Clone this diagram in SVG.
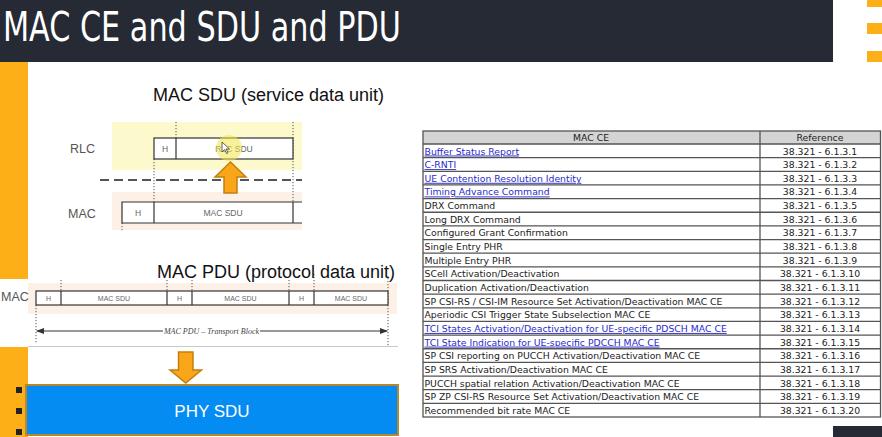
<svg xmlns="http://www.w3.org/2000/svg" width="882" height="437" viewBox="0 0 882 437">
<defs>
<style>
.dark{fill:#252a35}
.orange{fill:#fcaf17}
.box{fill:#fff;stroke:#333;stroke-width:1.2}
.dot{stroke:#555;stroke-width:1;stroke-dasharray:1.2 1.8;fill:none}
.small{font-family:"Liberation Sans",Arial,sans-serif;fill:#666;text-anchor:middle}
.lbl{font-family:"Liberation Sans",Arial,sans-serif;fill:#555;font-size:12.5px}
.cap{font-family:"Liberation Sans",Arial,sans-serif;fill:#111;font-size:18px}
.arrow{fill:#f9a61b;stroke:#c47f0c;stroke-width:1.5}
.tbl{font-family:"DejaVu Sans",Verdana,sans-serif;font-size:9.3px;fill:#222}
.lnk{fill:#2b2bc8;text-decoration:underline}
.ref{text-anchor:middle}
.grid{stroke:#555;stroke-width:1.3;fill:none}
</style>
<marker id="ah" markerWidth="8" markerHeight="6" refX="7" refY="3" orient="auto-start-reverse" markerUnits="userSpaceOnUse">
<path d="M0,0 L8,3 L0,6 Z" fill="#333"/>
</marker>
</defs>
<rect width="882" height="437" fill="#fff"/>

<g id="title">
<rect x="0" y="0" width="833" height="62" class="dark"/>
<text x="3" y="41" font-family="'DejaVu Sans Condensed','DejaVu Sans',sans-serif" font-stretch="condensed" font-size="41" fill="#fff" textLength="398" lengthAdjust="spacingAndGlyphs">MAC CE and SDU and PDU</text>
<rect x="867" y="0" width="15" height="7" class="orange"/>
<rect x="867" y="23" width="15" height="11" class="orange"/>
<rect x="867" y="51" width="15" height="11" class="orange"/>
<rect x="833" y="426" width="49" height="11" class="dark"/>
</g>

<g id="left-strip">
<rect x="0" y="62" width="28" height="217" class="orange"/>
<rect x="0" y="347" width="28" height="90" class="orange"/>
<rect x="16" y="387" width="6" height="6" fill="#222"/>
<rect x="16" y="408" width="6" height="6" fill="#222"/>
<rect x="16" y="429" width="6" height="6" fill="#222"/>
</g>

<g id="sdu-diagram">
<text x="153" y="101" class="cap">MAC SDU (service data unit)</text>
<rect x="112" y="122" width="190" height="48" fill="#fcf9cc"/>
<rect x="112" y="192" width="190" height="38" fill="#fdf0e6"/>
<text x="70" y="153" class="lbl">RLC</text>
<text x="68" y="218" class="lbl">MAC</text>
<line x1="100" y1="180" x2="302" y2="180" stroke="#555" stroke-width="2" stroke-dasharray="9 5"/>
<line x1="176" y1="122" x2="176" y2="138" class="dot"/>
<line x1="293" y1="122" x2="293" y2="202" class="dot"/>
<line x1="154" y1="159" x2="154" y2="202" class="dot"/>
<line x1="122" y1="223" x2="122" y2="231" class="dot"/>
<rect x="154" y="138" width="139" height="21" class="box"/>
<line x1="176" y1="138" x2="176" y2="159" stroke="#333" stroke-width="1.2"/>
<text x="165" y="151.5" class="small" font-size="8.5">H</text>
<text x="234" y="151.5" class="small" font-size="8.5">RLC SDU</text>
<path d="M302,202 H122 V223 H302" fill="#fff" stroke="#333" stroke-width="1.2"/>
<line x1="154" y1="202" x2="154" y2="223" stroke="#333" stroke-width="1.2"/>
<line x1="293" y1="202" x2="293" y2="223" stroke="#333" stroke-width="1.2"/>
<text x="138" y="215.5" class="small" font-size="8.5">H</text>
<text x="223" y="215.5" class="small" font-size="8.5">MAC SDU</text>
<circle cx="229" cy="148" r="13" fill="#f2e64a" opacity="0.55"/>
<path d="M222,142 L222,152 L224.5,149.5 L226.5,153.5 L228,152.8 L226,149 L229.5,149 Z" fill="#fff" stroke="#222" stroke-width="0.7"/>
<path class="arrow" d="M230.5,162 L246,177 L237,177 L237,193 L224,193 L224,177 L215,177 Z"/>
</g>

<g id="pdu-diagram">
<rect x="28" y="283" width="369" height="31" fill="#fdf0e6"/>
<text x="1" y="301" class="lbl" font-size="10">MAC</text>
<line x1="36" y1="305" x2="36" y2="343" class="dot"/>
<line x1="61" y1="280" x2="61" y2="291" class="dot"/>
<line x1="167" y1="280" x2="167" y2="291" class="dot"/>
<line x1="192" y1="280" x2="192" y2="291" class="dot"/>
<line x1="289" y1="280" x2="289" y2="291" class="dot"/>
<line x1="314" y1="274" x2="314" y2="291" class="dot"/>
<line x1="388" y1="278" x2="388" y2="346" class="dot"/>
<rect x="36" y="291" width="352" height="14" class="box"/>
<g stroke="#333" stroke-width="1.2">
<line x1="61" y1="291" x2="61" y2="305"/>
<line x1="167" y1="291" x2="167" y2="305"/>
<line x1="192" y1="291" x2="192" y2="305"/>
<line x1="289" y1="291" x2="289" y2="305"/>
<line x1="314" y1="291" x2="314" y2="305"/>
</g>
<g class="small" font-size="7">
<text x="48.5" y="300.5">H</text>
<text x="114" y="300.5">MAC SDU</text>
<text x="179.5" y="300.5">H</text>
<text x="240.5" y="300.5">MAC SDU</text>
<text x="301.5" y="300.5">H</text>
<text x="351" y="300.5">MAC SDU</text>
</g>
<line x1="37" y1="331" x2="387" y2="331" stroke="#333" stroke-width="1" marker-start="url(#ah)" marker-end="url(#ah)"/>
<rect x="163" y="326" width="97" height="10" fill="#fff"/>
<text x="211.5" y="333.5" font-family="'Liberation Serif','Times New Roman',serif" font-style="italic" font-size="8" fill="#444" text-anchor="middle">MAC PDU – Transport Block</text>
<text x="157" y="278" class="cap">MAC PDU (protocol data unit)</text>
<line x1="28" y1="346.5" x2="398" y2="346.5" stroke="#c8c8c8" stroke-width="1"/>
</g>

<g id="phy-sdu">
<rect x="26" y="385" width="372" height="50" fill="#058cf3" stroke="#b8862b" stroke-width="2"/>
<text x="212" y="417" font-family="'Liberation Sans',Arial,sans-serif" font-size="17" fill="#fff" text-anchor="middle">PHY SDU</text>
</g>

<g id="connectors">
<path class="arrow" d="M178.5,352 L193,352 L193,370 L201.5,370 L185.75,383 L170,370 L178.5,370 Z"/>
</g>

<g id="mac-ce-table">
<rect x="423" y="131" width="457.5" height="286" fill="#fff"/>
<rect x="423" y="131" width="457.5" height="13" fill="#d4d4d4"/>
<rect x="423" y="131" width="457.5" height="286" class="grid" stroke-width="1.6"/>
<line x1="760" y1="131" x2="760" y2="417" class="grid"/>
<g class="grid">
<line x1="423" y1="144" x2="880.5" y2="144"/>
<line x1="423" y1="157.65" x2="880.5" y2="157.65"/>
<line x1="423" y1="171.3" x2="880.5" y2="171.3"/>
<line x1="423" y1="184.95" x2="880.5" y2="184.95"/>
<line x1="423" y1="198.6" x2="880.5" y2="198.6"/>
<line x1="423" y1="212.25" x2="880.5" y2="212.25"/>
<line x1="423" y1="225.9" x2="880.5" y2="225.9"/>
<line x1="423" y1="239.55" x2="880.5" y2="239.55"/>
<line x1="423" y1="253.2" x2="880.5" y2="253.2"/>
<line x1="423" y1="266.85" x2="880.5" y2="266.85"/>
<line x1="423" y1="280.5" x2="880.5" y2="280.5"/>
<line x1="423" y1="294.15" x2="880.5" y2="294.15"/>
<line x1="423" y1="307.8" x2="880.5" y2="307.8"/>
<line x1="423" y1="321.45" x2="880.5" y2="321.45"/>
<line x1="423" y1="335.1" x2="880.5" y2="335.1"/>
<line x1="423" y1="348.75" x2="880.5" y2="348.75"/>
<line x1="423" y1="362.4" x2="880.5" y2="362.4"/>
<line x1="423" y1="376.05" x2="880.5" y2="376.05"/>
<line x1="423" y1="389.7" x2="880.5" y2="389.7"/>
<line x1="423" y1="403.35" x2="880.5" y2="403.35"/>
</g>
<g class="tbl">
<text x="591" y="141" text-anchor="middle">MAC CE</text>
<text x="820" y="141" text-anchor="middle">Reference</text>
<text x="424.5" y="154.5" class="lnk">Buffer Status Report</text>
<text x="424.5" y="168.15" class="lnk">C-RNTI</text>
<text x="424.5" y="181.8" class="lnk">UE Contention Resolution Identity</text>
<text x="424.5" y="195.45" class="lnk">Timing Advance Command</text>
<text x="424.5" y="209.1">DRX Command</text>
<text x="424.5" y="222.75">Long DRX Command</text>
<text x="424.5" y="236.4">Configured Grant Confirmation</text>
<text x="424.5" y="250.05">Single Entry PHR</text>
<text x="424.5" y="263.7">Multiple Entry PHR</text>
<text x="424.5" y="277.35">SCell Activation/Deactivation</text>
<text x="424.5" y="291">Duplication Activation/Deactivation</text>
<text x="424.5" y="304.65">SP CSI-RS / CSI-IM Resource Set Activation/Deactivation MAC CE</text>
<text x="424.5" y="318.3">Aperiodic CSI Trigger State Subselection MAC CE</text>
<text x="424.5" y="331.95" class="lnk">TCI States Activation/Deactivation for UE-specific PDSCH MAC CE</text>
<text x="424.5" y="345.6" class="lnk">TCI State Indication for UE-specific PDCCH MAC CE</text>
<text x="424.5" y="359.25">SP CSI reporting on PUCCH Activation/Deactivation MAC CE</text>
<text x="424.5" y="372.9">SP SRS Activation/Deactivation MAC CE</text>
<text x="424.5" y="386.55">PUCCH spatial relation Activation/Deactivation MAC CE</text>
<text x="424.5" y="400.2">SP ZP CSI-RS Resource Set Activation/Deactivation MAC CE</text>
<text x="424.5" y="413.85">Recommended bit rate MAC CE</text>
<g class="ref">
<text x="820" y="154.5">38.321 - 6.1.3.1</text>
<text x="820" y="168.15">38.321 - 6.1.3.2</text>
<text x="820" y="181.8">38.321 - 6.1.3.3</text>
<text x="820" y="195.45">38.321 - 6.1.3.4</text>
<text x="820" y="209.1">38.321 - 6.1.3.5</text>
<text x="820" y="222.75">38.321 - 6.1.3.6</text>
<text x="820" y="236.4">38.321 - 6.1.3.7</text>
<text x="820" y="250.05">38.321 - 6.1.3.8</text>
<text x="820" y="263.7">38.321 - 6.1.3.9</text>
<text x="820" y="277.35">38.321 - 6.1.3.10</text>
<text x="820" y="291">38.321 - 6.1.3.11</text>
<text x="820" y="304.65">38.321 - 6.1.3.12</text>
<text x="820" y="318.3">38.321 - 6.1.3.13</text>
<text x="820" y="331.95">38.321 - 6.1.3.14</text>
<text x="820" y="345.6">38.321 - 6.1.3.15</text>
<text x="820" y="359.25">38.321 - 6.1.3.16</text>
<text x="820" y="372.9">38.321 - 6.1.3.17</text>
<text x="820" y="386.55">38.321 - 6.1.3.18</text>
<text x="820" y="400.2">38.321 - 6.1.3.19</text>
<text x="820" y="413.85">38.321 - 6.1.3.20</text>
</g>
</g>
</g>
</svg>
